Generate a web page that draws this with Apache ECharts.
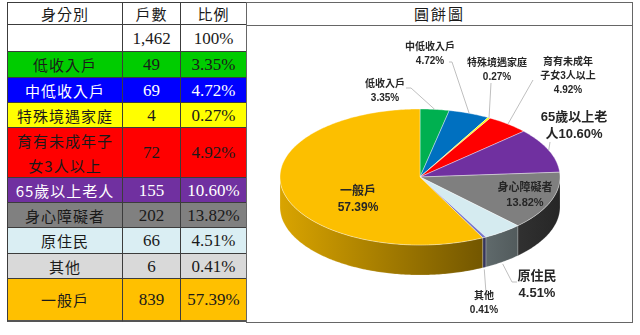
<!DOCTYPE html>
<html>
<head>
<meta charset="utf-8">
<script src="https://cdn.jsdelivr.net/npm/echarts@6/dist/echarts.min.js"></script>
<style>
html, body { margin: 0; padding: 0; background: #fff; }
#wrap { position: relative; width: 640px; height: 335px; overflow: hidden; background: #fff; }
.cell {
    position: absolute; box-sizing: border-box;
    display: flex; align-items: center; justify-content: center; text-align: center;
    white-space: pre-line;
    border-right: 1px solid #3c3c3c; border-bottom: 1px solid #3c3c3c;
    font-family: "Noto Sans CJK TC", sans-serif; font-size: 15px; letter-spacing: 1px;
    line-height: 25px; color: #1a1a1a;
}
.num { font-family: "Liberation Serif", "DejaVu Serif", serif; font-size: 17px; letter-spacing: 0; }
#box { position: absolute; left: 246px; top: 2px; width: 387px; height: 321px; box-sizing: border-box; border: 1.5px solid #666; }
#boxTitle {
    position: absolute; left: 0; top: 0; right: 0; height: 23px; box-sizing: border-box;
    border-bottom: 1.5px solid #666; text-align: center; line-height: 22px;
    font-family: "Noto Sans CJK TC", sans-serif; font-size: 15px; letter-spacing: 2px; color: #1a1a1a;
}
#chart { position: absolute; left: 0; top: 0; width: 640px; height: 335px; }
</style>
</head>
<body>
<div id="wrap">
    <div id="box"><div id="boxTitle">圓餅圖</div></div>
    <div id="chart"></div>
</div>
<script>
// 資料
const headers = ['身分別', '戶數', '比例'];
const totalCount = '1,462';
const totalPct = '100%';
const categories = ['低收入戶', '中低收入戶', '特殊境遇家庭', '育有未成年子\n女3人以上', '65歲以上老人', '身心障礙者', '原住民', '其他', '一般戶'];
const households = [49, 69, 4, 72, 155, 202, 66, 6, 839];
const percents = ['3.35%', '4.72%', '0.27%', '4.92%', '10.60%', '13.82%', '4.51%', '0.41%', '57.39%'];
const pieNames = ['低收入戶', '中低收入戶', '特殊境遇家庭', '育有未成年\n子女3人以上', '65歲以上老\n人', '身心障礙者', '原住民', '其他', '一般戶'];

// 表格樣式
const rowColors = ['#00cc00', '#0000ff', '#ffff00', '#ff0000', '#7030a0', '#808080', '#daeef3', '#d9d9d9', '#ffc000'];
const rowText = ['#1a1a1a', '#ffffff', '#1a1a1a', '#1a1a1a', '#ffffff', '#1a1a1a', '#1a1a1a', '#1a1a1a', '#1a1a1a'];
const colX = [7, 123, 181, 247];
const rowY = [2, 25, 52, 78, 103, 128, 178, 203, 228, 254, 279, 322];

// 圓餅圖樣式
const pieColors = ['#00b050', '#0070c0', '#ffff00', '#ff0000', '#7030a0', '#7f7f7f', '#d5ebf0', '#7878c8', '#fcbf00'];
const labelPos = [[385, 91], [430, 54], [497, 70], [568, 76], [574, 126], [525, 195], [537, 285], [484, 303], [358, 200]];
const labelLineFrom = [[[406, 88], [411, 88]], [[449, 62], [452, 62]], [[491, 83]], [[533, 80]], [[550, 142]], null, [[517, 282], [512, 282]], [[486, 293]], null];
const labelJoin = ['\n', '\n', '\n', '\n', '', '\n', '\n', '\n', '\n'];
const labelSize = [10, 10, 10, 10, 13, 11, 13, 10, 12];

// 畫表格
const wrap = document.getElementById('wrap');
function addCell(r, c, text, bg, color, isNum) {
    const d = document.createElement('div');
    d.className = 'cell' + (isNum ? ' num' : '');
    d.style.left = colX[c] + 'px';
    d.style.top = rowY[r] + 'px';
    d.style.width = (colX[c + 1] - colX[c]) + 'px';
    d.style.height = (rowY[r + 1] - rowY[r]) + 'px';
    if (c === 0) d.style.borderLeft = '1px solid #3c3c3c';
    if (r === 0) d.style.borderTop = '1px solid #3c3c3c';
    if (r === rowY.length - 2) d.style.borderBottom = '2px solid #555';
    d.style.background = bg;
    d.style.color = color;
    d.textContent = text;
    wrap.insertBefore(d, wrap.firstChild);
}
headers.forEach((h, c) => addCell(0, c, h, '#fff', '#1a1a1a', false));
addCell(1, 0, '', '#fff', '#1a1a1a', false);
addCell(1, 1, totalCount, '#fff', '#1a1a1a', true);
addCell(1, 2, totalPct, '#fff', '#1a1a1a', true);
categories.forEach((name, i) => {
    addCell(i + 2, 0, name, rowColors[i], rowText[i], false);
    addCell(i + 2, 1, String(households[i]), rowColors[i], rowText[i], true);
    addCell(i + 2, 2, percents[i], rowColors[i], rowText[i], true);
});

// 3D 圓餅圖
const cx = 420, cy = 177, rx = 140, ry = 68, depth = 30;
const total = households.reduce((a, b) => a + b, 0);
const cum = [0];
households.forEach((v, i) => cum.push(cum[i] + v));
const ang = f => -Math.PI / 2 + f * Math.PI * 2;

function shade(hex, f) {
    const n = parseInt(hex.slice(1), 16);
    const r = Math.round(((n >> 16) & 255) * f);
    const g = Math.round(((n >> 8) & 255) * f);
    const b = Math.round((n & 255) * f);
    return 'rgb(' + r + ',' + g + ',' + b + ')';
}
function arc(a0, a1, dy) {
    const pts = [];
    const n = Math.max(2, Math.ceil((a1 - a0) / 0.015));
    for (let k = 0; k <= n; k++) {
        const a = a0 + (a1 - a0) * k / n;
        pts.push([cx + rx * Math.cos(a), cy + ry * Math.sin(a) + dy]);
    }
    return pts;
}

function renderItem(params, api) {
    const i = params.dataIndex;
    const a0 = ang(cum[i] / total);
    const a1 = ang((cum[i] + api.value(0)) / total);
    const color = pieColors[i];
    const children = [];

    // 上面
    children.push({
        type: 'polygon',
        shape: { points: [[cx, cy]].concat(arc(a0, a1, 0)) },
        style: { fill: color, stroke: 'rgba(255,255,255,0.55)', lineWidth: 0.7 },
        z2: 5
    });

    // 側面
    const w0 = Math.max(a0, 0), w1 = Math.min(a1, Math.PI);
    if (w1 > w0) {
        const pts = arc(w0, w1, 0).concat(arc(w0, w1, depth).reverse());
        children.push({
            type: 'polygon',
            shape: { points: pts },
            style: {
                fill: new echarts.graphic.LinearGradient(cx - rx, 0, cx + rx, 0, [
                    { offset: 0, color: shade(color, 0.86) },
                    { offset: 1, color: shade(color, 0.3) }
                ], true),
                stroke: 'rgba(255,255,255,0.3)', lineWidth: 0.6
            },
            z2: 1
        });
    }

    // 標籤線
    const m = (a0 + a1) / 2;
    let ex = cx + rx * Math.cos(m), ey = cy + ry * Math.sin(m);
    if (Math.sin(m) > 0) ey += depth + 2;
    if (labelLineFrom[i]) {
        children.push({
            type: 'polyline',
            shape: { points: labelLineFrom[i].concat([[ex, ey]]) },
            style: { stroke: '#bfbfbf', lineWidth: 1, fill: null },
            z2: 8
        });
    }

    // 標籤
    children.push({
        type: 'text',
        style: {
            x: labelPos[i][0], y: labelPos[i][1],
            text: pieNames[i] + labelJoin[i] + percents[i],
            fill: '#262626',
            font: 'bold ' + labelSize[i] + 'px "Liberation Sans", "Noto Sans CJK TC", sans-serif',
            align: 'center', verticalAlign: 'middle',
            lineHeight: labelSize[i] + 4
        },
        z2: 10
    });
    return { type: 'group', children: children };
}

let myChart = echarts.init(document.getElementById('chart'), null, { renderer: 'canvas' });
let option = {
    animation: false,
    series: [{
        type: 'custom',
        coordinateSystem: 'none',
        renderItem: renderItem,
        data: households.map((v, i) => ({ name: categories[i], value: v }))
    }]
};
myChart.setOption(option);
window.addEventListener('resize', function () { myChart.resize(); });
</script>
</body>
</html>
